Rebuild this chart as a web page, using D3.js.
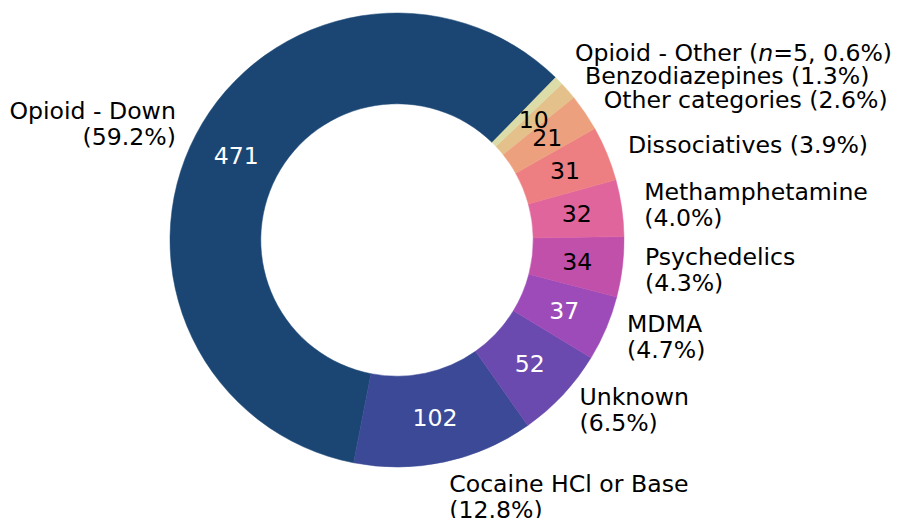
<!DOCTYPE html>
<html>
<head>
<meta charset="utf-8">
<script src="https://cdn.jsdelivr.net/npm/d3@7"></script>
<style>
  body { margin: 0; background: #fff; }
  text { font-family: "DejaVu Sans", sans-serif; }
</style>
</head>
<body>
<div id="chart"></div>
<script>
// data
var categories = ["Opioid - Down", "Cocaine HCl or Base", "Unknown", "MDMA", "Psychedelics",
                  "Methamphetamine", "Dissociatives", "Other categories", "Benzodiazepines", "Opioid - Other"];
var counts = [471, 102, 52, 37, 34, 32, 31, 21, 10, 5];
var colors = ["#1b4674", "#3b4996", "#6a4aae", "#9c4bb9", "#c150ab",
              "#e0659d", "#ed7f83", "#eda07e", "#e4c08b", "#dcdca8"];
var darkText = [false, false, false, false, true, true, true, true, true, true];
// single-line labels for the thin slices at the top
var oneLine = ["Benzodiazepines", "Other categories", "Dissociatives", "Opioid - Other"];

var width = 908, height = 518;
var cx = 397, cy = 240, outerR = 227, innerR = outerR * 0.6;
var fontSize = 23.6;

var svg = d3.select("#chart")
  .append("svg")
    .attr("width", width)
    .attr("height", height)
  .append("g")
    .attr("transform", "translate(" + cx + "," + cy + ")");

var total = d3.sum(counts);
var start = (90 - 45.7) * Math.PI / 180;

var data = categories.map(function(c, i) { return {name: c, value: counts[i], i: i}; });

var pie = d3.pie()
  .sort(null)
  .value(function(d) { return d.value; })
  .startAngle(start)
  .endAngle(start - 2 * Math.PI);

var arcs = pie(data);

var arc = d3.arc().innerRadius(innerR).outerRadius(outerR);

svg.selectAll(".slice")
  .data(arcs)
  .enter()
  .append("path")
    .attr("class", "slice")
    .attr("d", arc)
    .attr("fill", function(d) { return colors[d.data.i]; })
    .attr("stroke", function(d) { return colors[d.data.i]; })
    .attr("stroke-width", 0.5);

function mid(d) { return (d.startAngle + d.endAngle) / 2; }

// counts inside the ring (too small for the smallest slice)
svg.selectAll(".count")
  .data(arcs.filter(function(d) { return d.value >= 10; }))
  .enter()
  .append("text")
    .attr("class", "count")
    .attr("x", function(d) { return Math.sin(mid(d)) * outerR * 0.8; })
    .attr("y", function(d) { return -Math.cos(mid(d)) * outerR * 0.8; })
    .attr("text-anchor", "middle")
    .attr("dominant-baseline", "central")
    .attr("font-size", fontSize)
    .attr("fill", function(d) { return darkText[d.data.i] ? "#000" : "#fff"; })
    .text(function(d) { return d.value; });

// outer labels
var pct = d3.format(".1f");
var nudge = {"Opioid - Other": -12, "Cocaine HCl or Base": 13};

arcs.forEach(function(d) {
  var a = mid(d);
  var r = outerR * 1.1;
  var x = Math.sin(a) * r;
  var y = -Math.cos(a) * r + (nudge[d.data.name] || 0);
  var p = pct(d.value / total * 100) + "%";
  var lines;
  if (d.data.name === "Opioid - Other") {
    lines = [null];
  } else if (oneLine.indexOf(d.data.name) >= 0) {
    lines = [d.data.name + " (" + p + ")"];
  } else {
    lines = [d.data.name, "(" + p + ")"];
  }
  var lh = 26;
  var t = svg.append("text")
    .attr("x", x)
    .attr("y", y - (lines.length - 1) * lh / 2)
    .attr("text-anchor", x < 0 ? "end" : "start")
    .attr("dominant-baseline", "central")
    .attr("font-size", fontSize)
    .attr("fill", "#000");
  if (lines[0] === null) {
    t.append("tspan").text("Opioid - Other (");
    t.append("tspan").attr("font-style", "italic").text("n");
    t.append("tspan").text("=" + d.value + ", " + p + ")");
  } else {
    lines.forEach(function(l, k) {
      t.append("tspan")
        .attr("x", x)
        .attr("dy", k === 0 ? 0 : lh)
        .text(l);
    });
  }
});
</script>
</body>
</html>
